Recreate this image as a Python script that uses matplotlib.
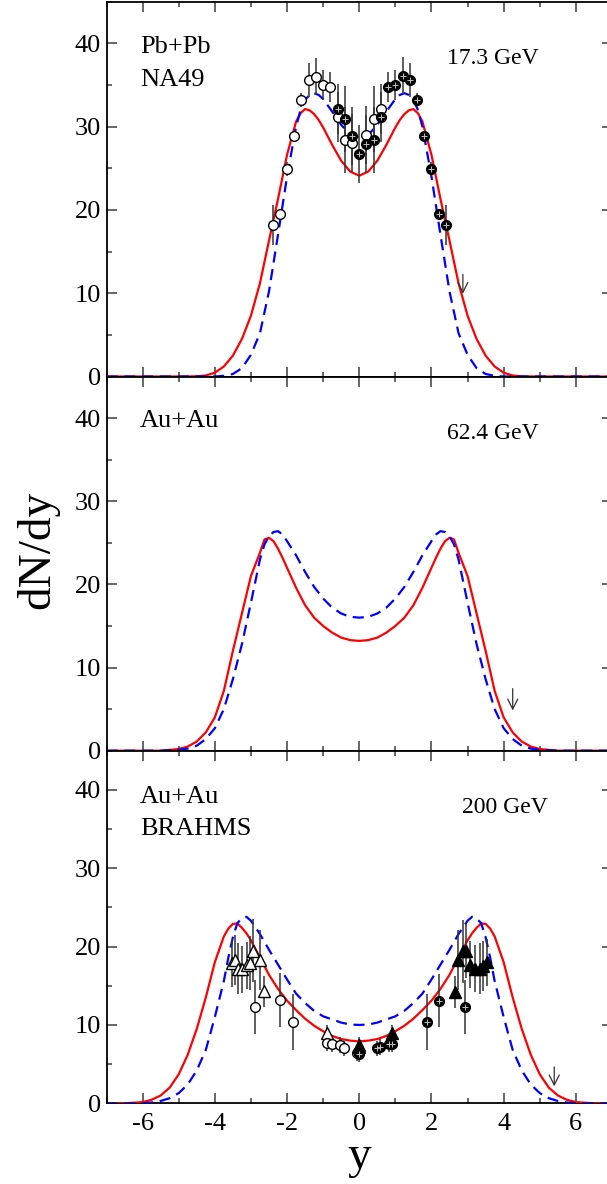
import numpy as np
import matplotlib
matplotlib.use('Agg')
import matplotlib.pyplot as plt
from matplotlib.ticker import MultipleLocator

plt.rcParams['font.family'] = ['Liberation Serif', 'DejaVu Serif']
plt.rcParams['axes.unicode_minus'] = False

# ---- model curves (y >= 0, mirrored) ----
# Pb+Pb 17.3 GeV
y_top = [0, 0.25, 0.5, 0.75, 1.0, 1.125, 1.25, 1.375, 1.5, 1.625, 1.75, 2.0, 2.25,
         2.5, 2.75, 3.0, 3.25, 3.5, 3.75, 4.0, 4.25, 4.5, 5.0, 7.0]
red_top = [24.1, 24.6, 25.9, 27.8, 29.9, 30.8, 31.5, 31.95, 32.1, 31.6, 30.6, 26.6, 21.3,
           16.3, 11.2, 7.3, 4.5, 2.5, 1.2, 0.45, 0.12, 0.02, 0, 0]
blue_top = [28.7, 29.0, 30.2, 31.8, 33.3, 33.8, 34.0, 33.8, 33.2, 32.0, 30.0, 24.0, 17.0,
            10.2, 5.2, 2.6, 1.0, 0.3, 0.08, 0.0, 0, 0, 0, 0]

# Au+Au 62.4 GeV
y_mid = [0, 0.25, 0.5, 0.75, 1.0, 1.25, 1.5, 1.75, 2.0, 2.125, 2.25, 2.375, 2.5, 2.625,
         2.75, 3.0, 3.25, 3.5, 3.75, 4.0, 4.25, 4.5, 4.75, 5.0, 5.5, 7.0]
red_mid = [13.2, 13.3, 13.6, 14.2, 15.0, 16.0, 17.5, 19.6, 22.0, 23.2, 24.3, 25.2, 25.6, 25.4,
           23.8, 21.0, 16.5, 12.0, 7.2, 4.0, 2.2, 1.1, 0.5, 0.2, 0, 0]
blue_mid = [16.0, 16.1, 16.5, 17.2, 18.3, 19.7, 21.5, 23.5, 25.2, 26.0, 26.4, 26.3, 25.8, 24.8,
            23.0, 17.8, 12.8, 8.6, 5.0, 2.7, 1.4, 0.6, 0.25, 0.1, 0, 0]

# Au+Au 200 GeV
y_bot = [0, 0.25, 0.5, 0.75, 1.0, 1.25, 1.5, 1.75, 2.0, 2.25, 2.5, 2.75, 3.0, 3.125,
         3.25, 3.375, 3.5, 3.625, 3.75, 4.0, 4.25, 4.5, 4.75, 5.0, 5.25, 5.5, 5.75,
         6.0, 6.5, 7.0]
red_bot = [7.9, 8.0, 8.2, 8.6, 9.2, 9.9, 10.8, 11.9, 13.1, 14.6, 16.4, 18.6, 20.8, 21.7,
           22.4, 22.95, 22.9, 22.3, 21.3, 18.0, 13.5, 9.5, 6.2, 3.7, 2.0, 1.0, 0.45,
           0.15, 0, 0]
blue_bot = [10.0, 10.05, 10.3, 10.7, 11.1, 11.8, 12.8, 14.0, 15.8, 17.7, 19.6, 21.6, 23.3, 23.8,
            23.6, 23.0, 21.2, 18.6, 15.6, 11.0, 6.8, 4.2, 2.4, 1.3, 0.65, 0.3, 0.1,
            0, 0, 0]

# ---- data points ----
# NA49
open_top_y = [-2.4, -2.2, -2.0, -1.8, -1.6, -1.4, -1.2, -1.0, -0.8, -0.6, -0.4, -0.2, 0.2, 0.4, 0.6]
open_top_v = [18.2, 19.5, 24.9, 28.9, 33.2, 35.6, 36.0, 35.0, 34.7, 31.2, 28.4, 28.0, 29.0, 30.9, 32.1]
open_top_e = [2.4, 0.6, 0.8, 0.6, 0.8, 2.0, 2.2, 1.8, 1.8, 3.0, 4.0, 3.5, 3.5, 4.0, 3.0]
fill_top_y = [-0.6, -0.4, -0.2, 0.0, 0.2, 0.4, 0.6, 0.8, 1.0, 1.2, 1.4, 1.6, 1.8, 2.0, 2.2, 2.4]
fill_top_v = [32.1, 30.9, 28.9, 26.7, 27.9, 28.4, 31.2, 34.7, 35.0, 36.1, 35.6, 33.2, 28.9, 24.9, 19.5, 18.2]
fill_top_e = [3.0, 4.0, 3.5, 3.5, 3.5, 4.0, 3.0, 1.8, 1.8, 2.2, 2.0, 0.8, 0.6, 0.8, 0.6, 2.4]

# BRAHMS
otri_y = [-3.53, -3.44, -3.35, -3.26, -3.12, -3.03, -2.94, -2.75, -2.64, -0.88, 0.0]
otri_v = [17.9, 18.3, 17.2, 17.1, 17.6, 17.9, 19.5, 18.3, 14.3, 9.0, 7.4]
otri_e = [3.0, 3.2, 3.2, 3.0, 3.0, 3.5, 4.0, 3.8, 2.0, 1.0, 1.0]
ftri_y = [0.0, 0.9, 2.65, 2.74, 2.88, 2.97, 3.07, 3.2, 3.34, 3.44, 3.53]
ftri_v = [7.2, 9.0, 14.2, 18.3, 19.4, 19.5, 17.7, 17.2, 17.2, 17.5, 18.0]
ftri_e = [1.0, 1.0, 2.0, 3.8, 4.0, 3.5, 3.0, 3.0, 3.2, 3.2, 3.0]
ocir_y = [-2.9, -2.2, -1.84, -0.9, -0.76, -0.54, -0.43, -0.05]
ocir_v = [12.3, 13.2, 10.4, 7.7, 7.6, 7.4, 7.0, 6.4]
ocir_e = [3.4, 3.4, 3.6, 1.0, 1.0, 1.0, 1.0, 1.0]
fcir_y = [0.0, 0.48, 0.57, 0.83, 0.9, 1.87, 2.22, 2.93]
fcir_v = [6.3, 7.0, 7.2, 7.6, 7.6, 10.4, 13.1, 12.3]
fcir_e = [1.0, 1.0, 1.0, 1.0, 1.0, 3.6, 3.4, 3.4]

# beam rapidity arrows (x, top, tip)
arrows = [(2.87, 12.6, 9.6), (4.25, 7.8, 4.5), (5.40, 5.0, 1.8)]

W, H = 607, 1184
fig = plt.figure(figsize=(W / 100, H / 100), dpi=100)

left = 106.5 / W
width = (612 - 106.5) / W
edges = [(1.6, 376.5), (376.5, 750.7), (750.7, 1103.3)]
axes = []
for top_px, bot_px in edges:
    ax = fig.add_axes([left, 1 - bot_px / H, width, (bot_px - top_px) / H])
    axes.append(ax)


def mirror(y, v):
    y = np.asarray(y)
    v = np.asarray(v)
    return np.concatenate([-y[::-1], y[1:]]), np.concatenate([v[::-1], v[1:]])


curves = [(y_top, red_top, blue_top), (y_mid, red_mid, blue_mid), (y_bot, red_bot, blue_bot)]
for ax, (yy, rr, bb) in zip(axes, curves):
    x, r = mirror(yy, rr)
    ax.plot(x, r, color='red', lw=1.6, zorder=3)
    x, b = mirror(yy, bb)
    ax.plot(x, b, color='blue', lw=1.6, ls=(0, (5, 3)), zorder=3)


def points(ax, x, v, e, marker, filled, ms, xerr=None):
    ax.errorbar(x, v, yerr=e, xerr=xerr, fmt='none', ecolor='0.2', elinewidth=1.1,
                capsize=0, zorder=4)
    fc = 'black' if filled else 'white'
    ax.plot(x, v, ls='none', marker=marker, ms=ms, mfc=fc, mec='black', mew=1.0, zorder=5)
    if filled and marker == 'o':
        ax.plot(x, v, ls='none', marker='+', ms=ms * 0.55, mec='0.75', mew=0.7, zorder=6)


ax = axes[0]
points(ax, open_top_y, open_top_v, open_top_e, 'o', False, 7)
points(ax, fill_top_y, fill_top_v, fill_top_e, 'o', True, 7)

ax = axes[2]
points(ax, otri_y, otri_v, otri_e, '^', False, 9)
points(ax, ocir_y, ocir_v, ocir_e, 'o', False, 7, xerr=0.12)
points(ax, fcir_y, fcir_v, fcir_e, 'o', True, 7, xerr=0.12)
points(ax, ftri_y, ftri_v, ftri_e, '^', True, 9)

for ax, (xa, y0, y1) in zip(axes, arrows):
    ax.annotate('', xy=(xa, y1), xytext=(xa, y0),
                arrowprops=dict(arrowstyle='->', color='0.2', lw=0.9,
                                mutation_scale=18))

fs = 19
fe = 17
axes[0].text(-6.07, 39.6, 'Pb+Pb', fontsize=fs, va='center')
axes[0].text(-6.07, 35.6, 'NA49', fontsize=fs, va='center')
axes[0].text(2.43, 38.2, '17.3 GeV', fontsize=fe, va='center')
axes[1].text(-6.07, 39.6, 'Au+Au', fontsize=fs, va='center')
axes[1].text(2.43, 38.2, '62.4 GeV', fontsize=fe, va='center')
axes[2].text(-6.07, 39.1, 'Au+Au', fontsize=fs, va='center')
axes[2].text(-6.07, 35.0, 'BRAHMS', fontsize=fs, va='center')
axes[2].text(2.85, 37.7, '200 GeV', fontsize=fe, va='center')

for i, ax in enumerate(axes):
    ax.set_xlim(-7, 7)
    ax.set_ylim(0, 45)
    ax.xaxis.set_major_locator(MultipleLocator(2))
    ax.xaxis.set_minor_locator(MultipleLocator(1))
    ax.yaxis.set_major_locator(MultipleLocator(10))
    ax.yaxis.set_minor_locator(MultipleLocator(5))
    ax.tick_params(which='both', direction='in', top=True, right=True,
                   color='0.3', width=1.2, labelsize=fs)
    ax.tick_params(which='major', length=7.5)
    ax.tick_params(which='minor', length=3.6)
    ax.tick_params(axis='y', pad=4)
    ax.tick_params(axis='x', pad=7)
    for s in ax.spines.values():
        s.set_linewidth(1.3)
    if i < 2:
        ax.tick_params(labelbottom=False)

axes[2].set_xlabel('y', fontsize=34, labelpad=0)
fig.text(38 / W, 1 - 550 / H, 'dN/dy', fontsize=34, rotation=90, ha='center', va='center')

fig.savefig('out.png', dpi=100)
